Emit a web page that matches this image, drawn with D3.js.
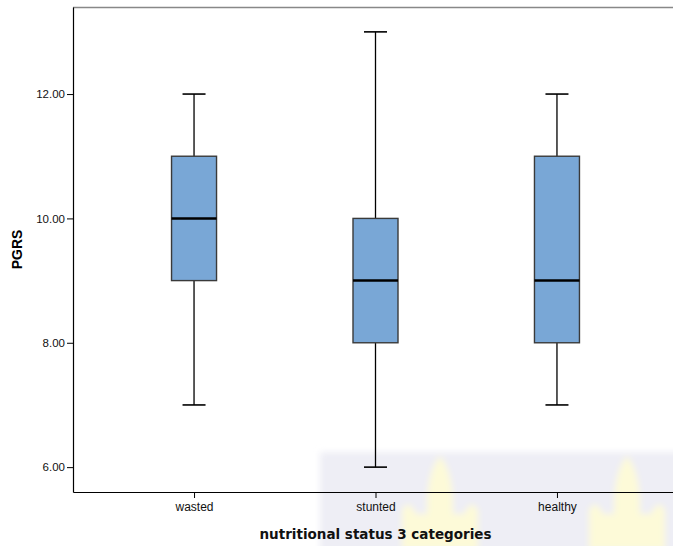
<!DOCTYPE html>
<html>
<head>
<meta charset="utf-8">
<script src="https://cdn.jsdelivr.net/npm/d3@7"></script>
<style>
  body { margin: 0; background: #fff; }
  svg { display: block; font-family: Arial, "Liberation Sans", sans-serif; }
</style>
</head>
<body>
<svg id="chart" width="673" height="546"></svg>
<script>
const categories = ["wasted", "stunted", "healthy"];
const mins    = [7, 6, 7];
const q1s     = [9, 8, 8];
const medians = [10, 9, 9];
const q3s     = [11, 10, 11];
const maxs    = [12, 13, 12];
const yTicks  = [6, 8, 10, 12];

(function () {
const svg = d3.select("#chart");
const W = 673, H = 546;
const mLeft = 73, mRight = 678, mTop = 7, mBottom = 492;

// faint watermark-like backdrop in lower right
const defs = svg.append("defs");
const blur = defs.append("filter").attr("id", "soft");
blur.append("feGaussianBlur").attr("stdDeviation", 3);
const wm = svg.append("g").attr("filter", "url(#soft)");
wm.append("rect").attr("x", 320).attr("y", 452).attr("width", W - 320 + 10).attr("height", H - 452 + 10)
  .attr("fill", "#eeeef5");
[[440, 500], [627, 500]].forEach(([cx, cy]) => {
  wm.append("path")
    .attr("d", `M${cx-38},${cy+50} L${cx-38},${cy+10} Q${cx-31},${cy-2} ${cx-24},${cy+14} L${cx-13},${cy+14} Q${cx-14},${cy-28} ${cx},${cy-44} Q${cx+14},${cy-28} ${cx+13},${cy+14} L${cx+24},${cy+14} Q${cx+31},${cy-2} ${cx+38},${cy+10} L${cx+38},${cy+50} Z`)
    .attr("fill", "#fdfad8");
});

const y = d3.scaleLinear().domain([5.6, 13.4]).range([mBottom, mTop]);
const x = d3.scalePoint().domain(categories).range([mLeft, mRight]).padding(0.667);

// frame
svg.append("line").attr("x1", mLeft).attr("x2", W).attr("y1", mTop + 0.5).attr("y2", mTop + 0.5)
  .attr("stroke", "#888").attr("stroke-width", 1.5);

// y axis
const yAxis = svg.append("g").attr("transform", `translate(${mLeft},0)`)
  .call(d3.axisLeft(y).tickValues(yTicks).tickFormat(d3.format(".2f")).tickSize(6).tickSizeOuter(0));
yAxis.attr("font-family", null);
yAxis.select(".domain").attr("stroke", "#000").attr("stroke-width", 1.2);
yAxis.selectAll(".tick line").attr("stroke", "#000");
yAxis.selectAll(".tick text").attr("font-size", 11.5).attr("fill", "#111").attr("x", -8);

// x axis
const xAxis = svg.append("g").attr("transform", `translate(0,${mBottom})`)
  .call(d3.axisBottom(x).tickSize(6).tickSizeOuter(0));
xAxis.attr("font-family", null);
xAxis.select(".domain").attr("stroke", "#000").attr("stroke-width", 1.2);
xAxis.selectAll(".tick line").attr("stroke", "#000");
xAxis.selectAll(".tick text").attr("font-size", 12).attr("fill", "#111").attr("dy", "0.85em");

// boxes
const data = categories.map((c, i) => ({c, min: mins[i], q1: q1s[i], med: medians[i], q3: q3s[i], max: maxs[i]}));
const boxW = 45, capW = 23;
const g = svg.append("g");
data.forEach(d => {
  const cx = x(d.c);
  g.append("line").attr("x1", cx).attr("x2", cx).attr("y1", y(d.max)).attr("y2", y(d.q3))
    .attr("stroke", "#000").attr("stroke-width", 1.3);
  g.append("line").attr("x1", cx).attr("x2", cx).attr("y1", y(d.q1)).attr("y2", y(d.min))
    .attr("stroke", "#000").attr("stroke-width", 1.3);
  g.append("line").attr("x1", cx - capW / 2).attr("x2", cx + capW / 2).attr("y1", y(d.max)).attr("y2", y(d.max))
    .attr("stroke", "#000").attr("stroke-width", 1.6);
  g.append("line").attr("x1", cx - capW / 2).attr("x2", cx + capW / 2).attr("y1", y(d.min)).attr("y2", y(d.min))
    .attr("stroke", "#000").attr("stroke-width", 1.6);
  g.append("rect").attr("x", cx - boxW / 2).attr("width", boxW)
    .attr("y", y(d.q3)).attr("height", y(d.q1) - y(d.q3))
    .attr("fill", "#79a7d6").attr("stroke", "#3a3a3a").attr("stroke-width", 1.4);
  g.append("line").attr("x1", cx - boxW / 2).attr("x2", cx + boxW / 2).attr("y1", y(d.med)).attr("y2", y(d.med))
    .attr("stroke", "#000").attr("stroke-width", 2.5);
});

// axis titles
svg.append("text").attr("transform", `translate(22,${(mTop + mBottom) / 2}) rotate(-90)`)
  .attr("text-anchor", "middle").attr("font-size", 14).attr("font-weight", "bold").text("PGRS");
svg.append("text").attr("x", x("stunted")).attr("y", 539)
  .attr("text-anchor", "middle").attr("font-size", 13.5).attr("font-weight", "bold")
  .style("font-family", "'DejaVu Sans', Verdana, sans-serif")
  .attr("fill", "#111")
  .text("nutritional status 3 categories");
})();
</script>
</body>
</html>
